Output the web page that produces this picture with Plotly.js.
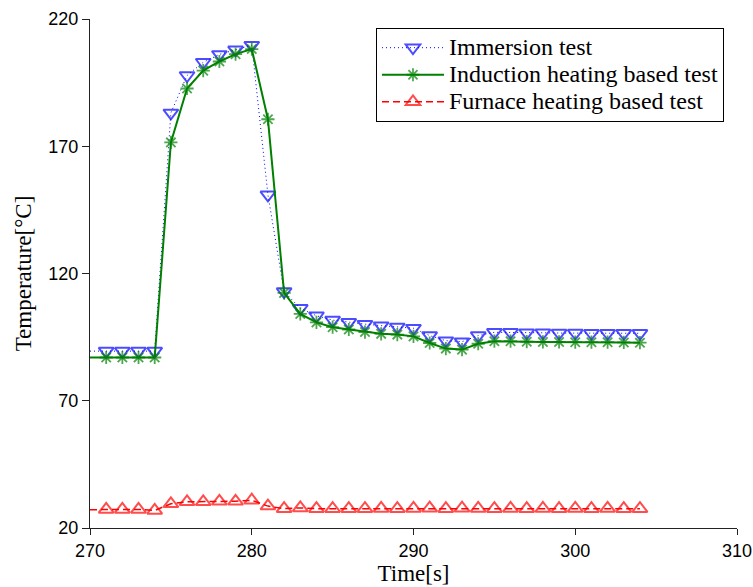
<!DOCTYPE html>
<html>
<head>
<meta charset="utf-8">
<script src="https://cdn.plot.ly/plotly-3.0.1.min.js"></script>
<style>
html, body { margin: 0; padding: 0; background: #fff; }
#chart { width: 753px; height: 587px; }
</style>
</head>
<body>
<div id="chart"></div>
<script>
// Time axis (s); the first sample (270 s) is drawn as line only, without a marker
var time = [270, 271, 272, 273, 274, 275, 276, 277, 278, 279, 280, 281, 282, 283, 284, 285, 286, 287,
            288, 289, 290, 291, 292, 293, 294, 295, 296, 297, 298, 299, 300, 301, 302, 303, 304];

var immersionTemp = [89.5, 89.5, 89.5, 89.5, 89.5, 183.1, 197.8, 203.0, 206.1, 207.9, 209.7, 150.9, 112.9,
                     106.3, 103.4, 101.7, 100.8, 100.1, 99.5, 99.0, 98.5, 95.6, 93.6, 93.2, 95.6, 96.9,
                     96.9, 96.7, 96.7, 96.6, 96.6, 96.5, 96.5, 96.5, 96.5];

var inductionTemp = [87.0, 87.0, 87.0, 87.0, 87.0, 171.5, 192.7, 199.7, 203.3, 206.2, 208.2, 180.6, 112.4,
                     104.1, 100.8, 98.9, 98.0, 97.0, 96.3, 96.0, 95.3, 92.7, 90.5, 90.1, 92.4, 93.4,
                     93.4, 93.2, 93.1, 93.1, 93.0, 93.0, 93.0, 92.9, 92.8];

var furnaceTemp = [27.2, 27.3, 27.3, 27.3, 26.9, 29.5, 30.3, 30.3, 30.5, 30.5, 30.9, 28.6, 27.6,
                   27.9, 27.6, 27.6, 27.6, 27.6, 27.7, 27.6, 27.7, 27.8, 27.6, 27.8, 27.7, 27.6,
                   27.7, 27.6, 27.7, 27.6, 27.7, 27.6, 27.7, 27.6, 27.6];

var seriesNames = ['Immersion test', 'Induction heating based test', 'Furnace heating based test'];
var xTicks = [270, 280, 290, 300, 310];
var yTicks = [20, 70, 120, 170, 220];

var SERIF = 'Liberation Serif, Times New Roman, serif';
var SANS = 'Liberation Sans, Arial, sans-serif';

function sizes(n, s) {
  var a = [];
  for (var i = 0; i < n; i++) a.push(i === 0 ? 0 : s);
  return a;
}
function legendName(s) {
  return '<span style="font-size:24px">' + s + '</span>';
}

var traces = [
  {
    x: time, y: immersionTemp, name: legendName(seriesNames[0]), type: 'scatter', mode: 'lines+markers',
    line: { color: 'rgb(0,0,255)', width: 1, dash: '1px,3px' },
    marker: { symbol: 'triangle-down-open', size: sizes(time.length, 13), color: 'rgb(0,0,255)',
              line: { color: 'rgb(0,0,255)', width: 2 } }
  },
  {
    x: time, y: inductionTemp, name: legendName(seriesNames[1]), type: 'scatter', mode: 'lines+markers',
    line: { color: 'rgb(0,128,0)', width: 2 },
    marker: { symbol: 'asterisk-open', size: sizes(time.length, 11), color: 'rgb(0,128,0)',
              line: { color: 'rgb(0,128,0)', width: 1.8 } }
  },
  {
    x: time, y: furnaceTemp, name: legendName(seriesNames[2]), type: 'scatter', mode: 'lines+markers',
    line: { color: 'rgb(255,0,0)', width: 1.5, dash: '7px,4px' },
    marker: { symbol: 'triangle-up-open', size: sizes(time.length, 13), color: 'rgb(255,0,0)',
              line: { color: 'rgb(255,0,0)', width: 2 } }
  }
];

var layout = {
  width: 753, height: 587,
  margin: { l: 90, r: 16, t: 19, b: 59, pad: 0 },
  paper_bgcolor: '#fff', plot_bgcolor: '#fff',
  showlegend: true,
  legend: {
    x: 0.442, y: 0.982, xanchor: 'left', yanchor: 'top',
    bgcolor: '#fff', bordercolor: '#000', borderwidth: 1,
    font: { family: SERIF, size: 18.5, color: '#000' },
    itemwidth: 62, tracegroupgap: 0
  },
  xaxis: {
    range: [270, 310], tickvals: xTicks, ticktext: xTicks.map(String),
    showgrid: false, zeroline: false, showline: true, linecolor: '#222', linewidth: 1,
    ticks: 'outside', ticklen: 6, tickwidth: 1, tickcolor: '#222',
    tickfont: { family: SANS, size: 18, color: '#000' },
    title: { text: 'Time[s]', standoff: 5,
             font: { family: SERIF, size: 23, color: '#000' } }
  },
  yaxis: {
    range: [20, 220], tickvals: yTicks, ticktext: yTicks.map(String),
    showgrid: false, zeroline: false, showline: true, linecolor: '#222', linewidth: 1,
    ticks: 'outside', ticklen: 7, tickwidth: 1, tickcolor: '#222',
    tickfont: { family: SANS, size: 18, color: '#000' },
    title: { text: 'Temperature[°C]', standoff: 10,
             font: { family: SERIF, size: 23, color: '#000' } }
  }
};

Plotly.newPlot('chart', traces, layout, { displayModeBar: false, staticPlot: true });
</script>
</body>
</html>
